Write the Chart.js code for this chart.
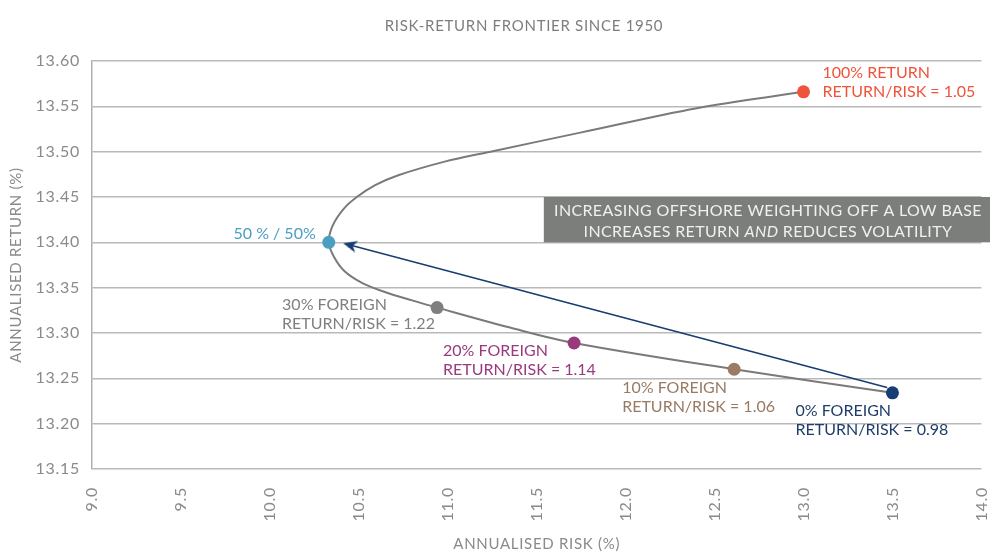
<!DOCTYPE html>
<html lang="en">
  <head>
    <meta charset="UTF-8" />
    <title>Risk-Return Frontier</title>
    <style>
      body { margin: 0; background: #fff; }
      #wrap { width: 990px; height: 552px; }
    </style>
  </head>
  <body>
    <div id="wrap">
      <canvas id="frontierChart"></canvas>
    </div>

    <script src="https://cdn.jsdelivr.net/npm/chart.js"></script>
    <script>
      // portfolio points
      const pointNames = ["0% FOREIGN", "10% FOREIGN", "20% FOREIGN", "30% FOREIGN", "50 % / 50%", "100% RETURN"];
      const pointRatios = ["0.98", "1.06", "1.14", "1.22", null, "1.05"];
      const pointRisk = [13.5, 12.61, 11.71, 10.94, 10.331, 13.0];
      const pointReturn = [13.234, 13.26, 13.289, 13.328, 13.4, 13.566];

      // frontier curve (0% foreign -> 100%)
      const curveRisk = [13.5, 12.61, 11.71, 11.35, 10.94, 10.8, 10.65, 10.52, 10.42, 10.36, 10.331,
        10.353, 10.415, 10.489, 10.592, 10.722, 10.983, 11.24, 11.745, 12.4, 13.0];
      const curveReturn = [13.234, 13.26, 13.289, 13.306, 13.328, 13.336, 13.345, 13.355, 13.368, 13.384, 13.4,
        13.4185, 13.437, 13.45, 13.463, 13.474, 13.489, 13.5, 13.521, 13.548, 13.566];

      // arrow from 0% foreign back to 50/50
      const arrowRisk = [13.47, 10.45];
      const arrowReturn = [13.24, 13.397];

      const riskTicks = [9.0, 9.5, 10.0, 10.5, 11.0, 11.5, 12.0, 12.5, 13.0, 13.5, 14.0];
      const returnTicks = [13.15, 13.2, 13.25, 13.3, 13.35, 13.4, 13.45, 13.5, 13.55, 13.6];

      const pointColors = ["#163e72", "#9b7b63", "#983a7c", "#7f7f7f", "#4a9ebf", "#ef543b"];
      const labelColors = ["#1f3d6a", "#9a7a62", "#983a7c", "#7f7f7f", "#4a9ebf", "#ef543b"];
      const navy = "#163e72";
      const font = "Lato";

      Chart.defaults.font.family = font;
      Chart.defaults.color = "#8a8a8a";

      // barbed arrow head pointing up
      let head = document.createElement("canvas");
      head.width = 12;
      head.height = 14;
      let hc = head.getContext("2d");
      hc.fillStyle = navy;
      hc.beginPath();
      hc.moveTo(6, 0);
      hc.lineTo(12, 14);
      hc.lineTo(6, 10);
      hc.lineTo(0, 14);
      hc.closePath();
      hc.fill();

      const xy = (xs, ys) => xs.map((x, i) => ({ x: x, y: ys[i] }));

      // label offsets from each point, in pixels
      const labelPos = [
        { dx: -97, dy: 18, align: "left" },
        { dx: -112, dy: 19, align: "left" },
        { dx: -131, dy: 8, align: "left" },
        { dx: -155, dy: -3, align: "left" },
        { dx: -13, dy: -8, align: "right" },
        { dx: 19, dy: -19, align: "left" },
      ];

      const notes = {
        id: "notes",
        beforeDraw(chart) {
          // wider tracking, closer to the original typeface
          chart.ctx.letterSpacing = "0.7px";
        },
        afterDatasetsDraw(chart) {
          const { ctx, scales } = chart;
          const xs = scales.x, ys = scales.y;
          ctx.save();
          ctx.textBaseline = "middle";

          // title
          ctx.letterSpacing = "0.7px";
          ctx.font = "15px " + font;
          ctx.fillStyle = "#7d7d7d";
          ctx.textAlign = "center";
          ctx.fillText("RISK-RETURN FRONTIER SINCE 1950", 524, 26);

          // grey callout box
          const bx = xs.getPixelForValue(11.54);
          const by = ys.getPixelForValue(13.45);
          const bb = ys.getPixelForValue(13.4);
          ctx.fillStyle = "#7b7e7b";
          ctx.fillRect(bx, by, chart.width - bx, bb - by);
          const cx = (bx + chart.width) / 2 + 1;
          const bf = "16px " + font;
          ctx.letterSpacing = "0.35px";
          ctx.fillStyle = "#f0f0f0";
          ctx.font = bf;
          ctx.fillText("INCREASING OFFSHORE WEIGHTING OFF A LOW BASE", cx, by + 14);
          const a = "INCREASES RETURN ", b = "AND", c = " REDUCES VOLATILITY";
          const wa = ctx.measureText(a).width, wc = ctx.measureText(c).width;
          ctx.font = "italic " + bf;
          const wb = ctx.measureText(b).width;
          let sx = cx - (wa + wb + wc) / 2;
          ctx.textAlign = "left";
          ctx.font = bf;
          ctx.fillText(a, sx, by + 35);
          ctx.font = "italic " + bf;
          ctx.fillText(b, sx + wa, by + 35);
          ctx.font = bf;
          ctx.fillText(c, sx + wa + wb, by + 35);

          // point labels
          ctx.letterSpacing = "0px";
          ctx.font = "16px " + font;
          pointNames.forEach((name, i) => {
            const px = xs.getPixelForValue(pointRisk[i]);
            const py = ys.getPixelForValue(pointReturn[i]);
            const p = labelPos[i];
            ctx.fillStyle = labelColors[i];
            ctx.textAlign = p.align;
            ctx.fillText(name, px + p.dx, py + p.dy);
            if (pointRatios[i]) {
              ctx.fillText("RETURN/RISK = " + pointRatios[i], px + p.dx, py + p.dy + 19);
            }
          });
          ctx.restore();
        },
      };

      let canvas = document.querySelector("#frontierChart");
      let chart = new Chart(canvas, {
        type: "scatter",
        data: {
          datasets: [
            {
              label: "frontier",
              data: xy(curveRisk, curveReturn),
              showLine: true,
              borderColor: "#7a7a7a",
              borderWidth: 2,
              tension: 0.35,
              pointRadius: 0,
              order: 3,
            },
            {
              label: "arrow",
              data: xy(arrowRisk, arrowReturn),
              showLine: true,
              borderColor: navy,
              borderWidth: 1.6,
              pointRadius: [0, 7],
              pointStyle: head,
              pointRotation: -75,
              order: 2,
            },
            {
              label: "portfolios",
              data: xy(pointRisk, pointReturn),
              pointRadius: 6.5,
              pointBackgroundColor: pointColors,
              pointBorderWidth: 0,
              order: 1,
            },
          ],
        },
        options: {
          responsive: true,
          maintainAspectRatio: false,
          animation: false,
          layout: { padding: { top: 61, right: 3, left: 0, bottom: 0 } },
          plugins: {
            legend: { display: false },
            tooltip: { enabled: false },
          },
          scales: {
            x: {
              type: "linear",
              min: 9,
              max: 14,
              afterBuildTicks: (s) => { s.ticks = riskTicks.map((v) => ({ value: v })); },
              afterFit: (s) => { s.height = 83; s.paddingRight = 0; },
              ticks: {
                minRotation: 90,
                maxRotation: 90,
                padding: 18,
                font: { size: 16 },
                color: "#8a8a8a",
                callback: (v) => Number(v).toFixed(1),
              },
              grid: { display: false, drawTicks: false },
              border: { display: false },
              title: {
                display: true,
                text: "ANNUALISED RISK (%)",
                font: { size: 15 },
                color: "#8a8a8a",
                padding: { top: 0, bottom: -1 },
              },
            },
            y: {
              min: 13.15,
              max: 13.6,
              afterBuildTicks: (s) => { s.ticks = returnTicks.map((v) => ({ value: v })); },
              afterFit: (s) => { s.width = 92; },
              ticks: {
                padding: 12,
                font: { size: 16 },
                color: "#8a8a8a",
                callback: (v) => Number(v).toFixed(2),
              },
              grid: { color: "#b9b9b9", lineWidth: 1.5, drawTicks: false },
              border: { color: "#b0b0b0", width: 1.5 },
              title: {
                display: true,
                text: "ANNUALISED RETURN (%)",
                font: { size: 15 },
                color: "#8a8a8a",
                padding: { top: 7, bottom: 0 },
              },
            },
          },
        },
        plugins: [notes],
      });
    </script>
  </body>
</html>
